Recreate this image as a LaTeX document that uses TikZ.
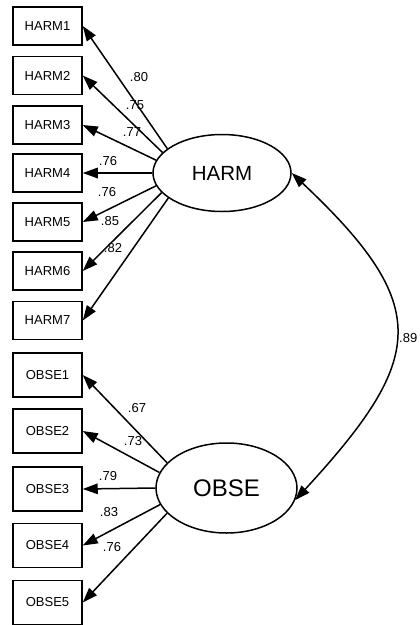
\documentclass[tikz,border=0pt]{standalone}
\usepackage{fontspec}
\setmainfont{Liberation Sans}
\usetikzlibrary{arrows.meta,shapes.geometric}
\begin{document}
\begin{tikzpicture}[x=1pt,y=-1pt,
  indicator/.style={draw, line width=1.5pt, minimum width=69pt, inner sep=0pt,
    font=\fontsize{13}{15}\selectfont},
  harmbox/.style={indicator, minimum height=38pt},
  obsebox/.style={indicator, minimum height=44pt},
  latent/.style={draw, ellipse, line width=1.5pt, inner sep=0pt},
  tip/.style={Triangle[length=15pt,width=10.5pt]},
  load/.style={line width=1.5pt, -{Triangle[length=15pt,width=10.5pt]}},
  coef/.style={font=\fontsize{13}{15}\selectfont, inner sep=0pt}]
\useasboundingbox (0,0) rectangle (420,625);

% latent factors
\node[latent, minimum width=138pt, minimum height=77pt, font=\fontsize{20.5}{24}\selectfont] (harm) at (222,173) {HARM};
\node[latent, minimum width=141pt, minimum height=90pt, font=\fontsize{24}{28}\selectfont] (obse) at (226.5,488) {OBSE};

% HARM indicators
\node[harmbox] (h1) at (47.5,26)    {HARM1};
\node[harmbox] (h2) at (47.5,75.5)  {HARM2};
\node[harmbox] (h3) at (47.5,125)   {HARM3};
\node[harmbox] (h4) at (47.5,173)   {HARM4};
\node[harmbox] (h5) at (47.5,222)   {HARM5};
\node[harmbox] (h6) at (47.5,271)   {HARM6};
\node[harmbox] (h7) at (47.5,320.5) {HARM7};

% OBSE indicators
\node[obsebox] (o1) at (47.5,375)   {OBSE1};
\node[obsebox] (o2) at (47.5,431)   {OBSE2};
\node[obsebox] (o3) at (47.5,489)   {OBSE3};
\node[obsebox] (o4) at (47.5,545.5) {OBSE4};
\node[obsebox] (o5) at (47.5,602.5) {OBSE5};

% loadings
\draw[load] (harm.156) -- (h1.east);
\draw[load] (harm.161) -- (h2.east);
\draw[load] (harm.169) -- (h3.east);
\draw[load] (harm.180) -- (h4.east);
\draw[load] (harm.191) -- (h5.east);
\draw[load] (harm.198) -- (h6.east);
\draw[load] (harm.205) -- (h7.east);

\draw[load] (obse.157) -- (o1.east);
\draw[load] (obse.167) -- (o2.east);
\draw[load] (obse.180) -- (o3.east);
\draw[load] (obse.194) -- (o4.east);
\draw[load] (obse.203) -- (o5.east);

% loading coefficients
\node[coef] (c1) at (139,77)  {.80};
\node[coef] (c2) at (135,105) {.75};
\node[coef] (c3) at (132,132) {.77};
\node[coef] (c4) at (108,161) {.76};
\node[coef] (c5) at (107,192) {.76};
\node[coef] (c6) at (110,221) {.85};
\node[coef] (c7) at (113,248) {.82};

\node[coef] (d1) at (137,408) {.67};
\node[coef] (d2) at (133,441) {.73};
\node[coef] (d3) at (108,476) {.79};
\node[coef] (d4) at (109,512) {.83};
\node[coef] (d5) at (112,547) {.76};

% factor correlation
\draw[line width=1.5pt, {Triangle[length=15pt,width=10.5pt]}-{Triangle[length=15pt,width=10.5pt]}]
  (harm.east) .. controls (433,306) and (426,358) .. (obse.-10);
\node[coef, anchor=west] (r) at (399,338) {.89};
\end{tikzpicture}
\end{document}
